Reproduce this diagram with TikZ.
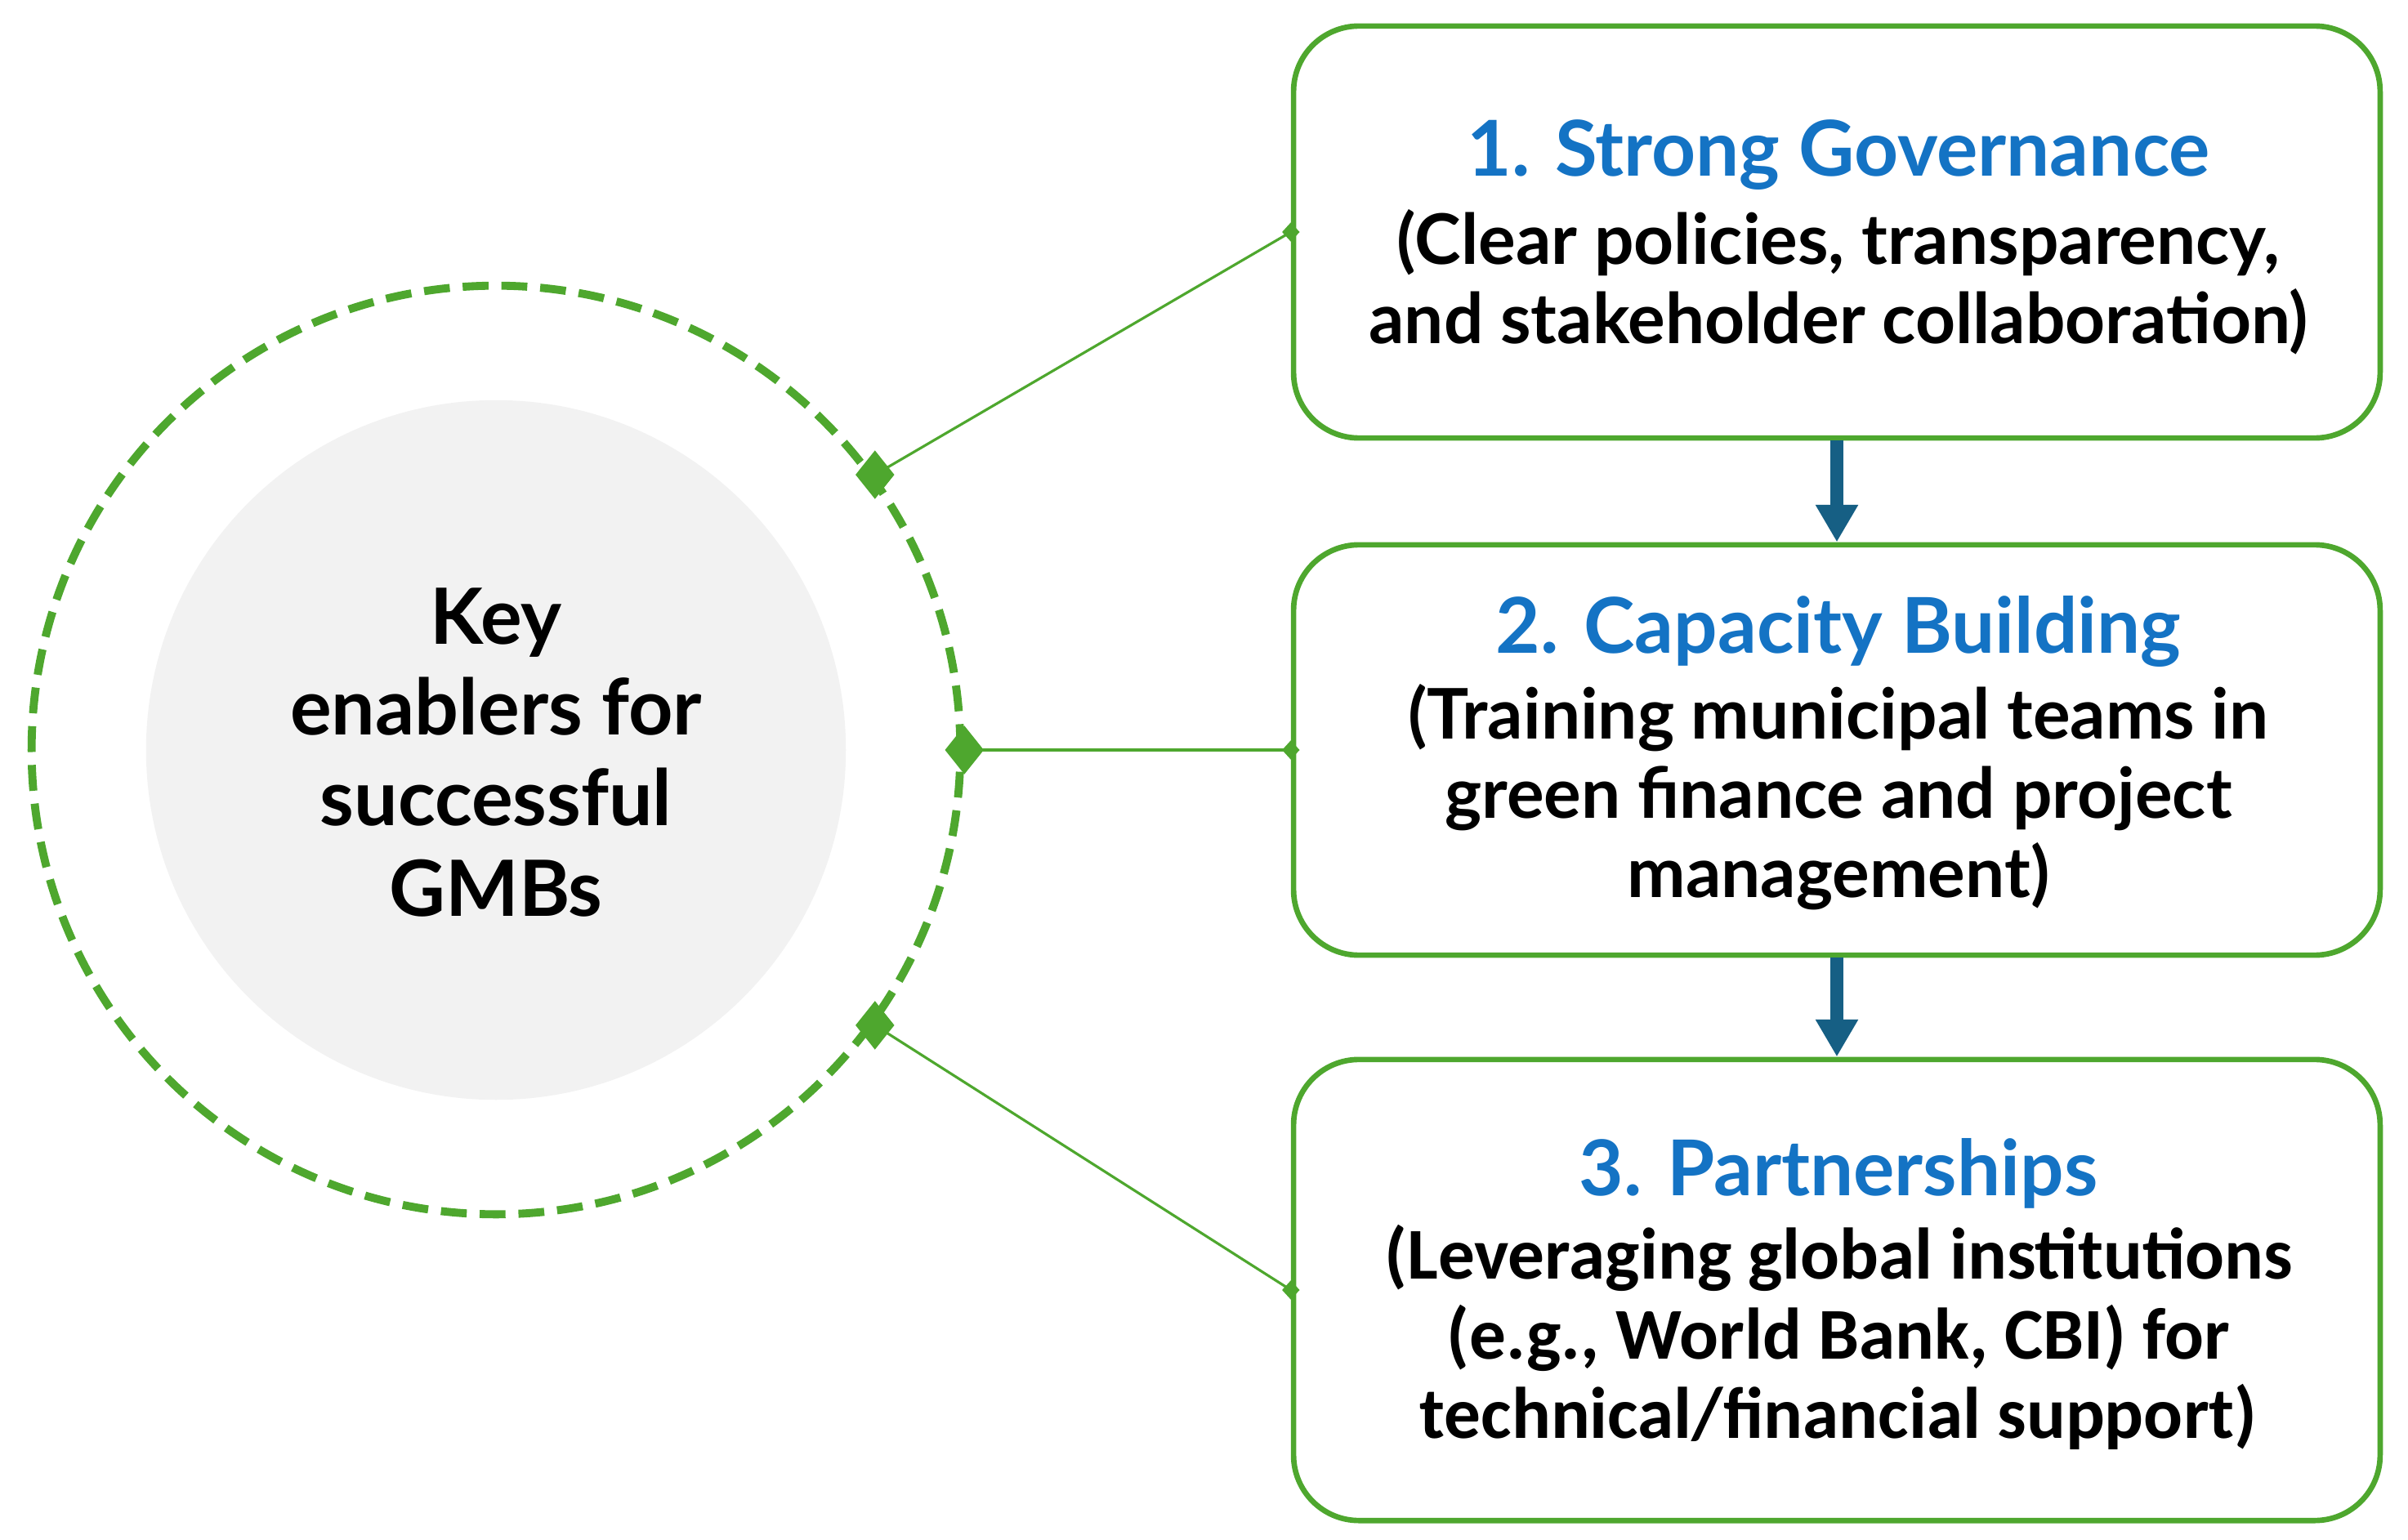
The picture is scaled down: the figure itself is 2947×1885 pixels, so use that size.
\documentclass[tikz,border=0pt]{standalone}
\usepackage{fontspec}
\setmainfont{Lato}
\newfontfamily\carl{Carlito}
\usetikzlibrary{shapes.geometric,arrows.meta}
\definecolor{gr}{HTML}{4EA72E}
\definecolor{ttl}{HTML}{1473C4}
\definecolor{arr}{HTML}{165F84}
\definecolor{lg}{HTML}{F2F2F2}
\begin{document}
\begin{tikzpicture}[x=0.01cm,y=-0.01cm,
  enabler/.style={draw=gr, line width=1.9pt, rounded corners=0.8cm, minimum width=13.29cm, inner sep=0pt},
  ttltext/.style={font=\bfseries\fontsize{26.8}{30}\selectfont, text=ttl},
  bodytext/.style={font=\bfseries\fontsize{24.3}{27.6}\selectfont, align=center},
  bodytextc/.style={font=\carl\bfseries\fontsize{25.4}{27.8}\selectfont, align=center},
  bigdia/.style={diamond, fill=gr, inner sep=0pt, minimum width=0.48cm, minimum height=0.6cm},
  smalldia/.style={diamond, fill=gr, inner sep=0pt, minimum width=0.22cm, minimum height=0.24cm},
  link/.style={draw=gr, line width=0.9pt},
  flow/.style={draw=arr, line width=4.8pt, -{Triangle[width=14pt,length=13pt]}}
]
\useasboundingbox (0,0) rectangle (2947,1885);

% left circles
\node[circle, fill=lg, minimum size=8.56cm, inner sep=0pt] (core) at (607,918) {};
\node[circle, draw=gr, line width=2.8pt, dash pattern=on 9pt off 4.5pt, minimum size=11.36cm, inner sep=0pt] (ring) at (607,918) {};
\node[font=\bfseries\fontsize{27}{31.5}\selectfont, align=center] (ctext) at (607,921) {Key\\enablers for\\successful\\GMBs};

% boxes
\node[enabler, minimum height=5.04cm] (box1) at (2248,284) {};
\node[enabler, minimum height=5.02cm] (box2) at (2248,918) {};
\node[enabler, minimum height=5.64cm] (box3) at (2248,1579) {};

% texts
\node[ttltext] (t1) at (2250,190) {1. Strong Governance};
\node[bodytext] (b1) at (2250,345) {(Clear policies, transparency,\\and stakeholder collaboration)};
\node[ttltext] (t2) at (2250,773) {2. Capacity Building};
\node[bodytext] (b2) at (2250,976) {(Training municipal teams in\\green finance and project\\management)};
\node[ttltext] (t3) at (2250,1436) {3. Partnerships};
\node[bodytextc] (b3) at (2250,1637) {(Leveraging global institutions\\(e.g., World Bank, CBI) for\\technical/financial support)};

% flow arrows
\draw[flow] (box1.south) -- (box2.north);
\draw[flow] (box2.south) -- (box3.north);

% connectors
\draw[link] (ring.36) -- (box1.west);
\draw[link] (ring.0) -- (box2.west);
\draw[link] (ring.-36) -- (box3.west);
\node[bigdia] (d1) at (ring.36) {};
\node[bigdia] (d2) at (ring.0) {};
\node[bigdia] (d3) at (ring.-36) {};
\node[smalldia] (e1) at (box1.west) {};
\node[smalldia] (e2) at (box2.west) {};
\node[smalldia] (e3) at (box3.west) {};
\end{tikzpicture}
\end{document}
